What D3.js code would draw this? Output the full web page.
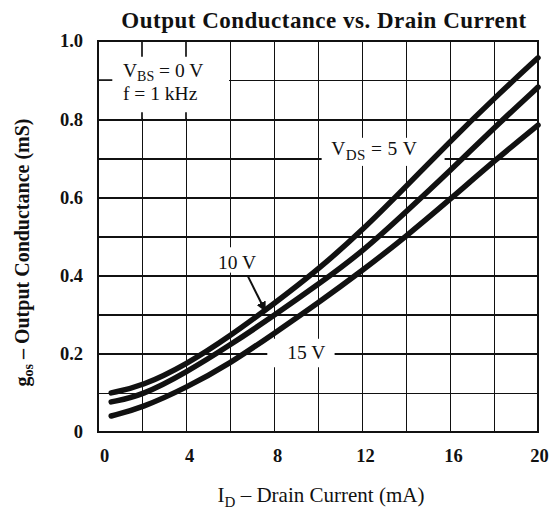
<!DOCTYPE html>
<html lang="en">

<head>
  <meta charset="utf-8">
  <title>Output Conductance vs. Drain Current</title>
  <script type="text/javascript" src="https://cdn.jsdelivr.net/npm/d3@7"></script>

  <style>
    body {
      margin: 0;
      background: #fff;
    }

    svg text {
      font-family: "Liberation Serif", "Times New Roman", serif;
      fill: #111;
    }

    .grid line {
      stroke: #111;
      stroke-width: 1.7;
      shape-rendering: crispEdges;
    }

    .grid path {
      display: none;
    }

    .axis path,
    .axis line {
      display: none;
    }

    .axis text {
      font-size: 18.5px;
      font-weight: bold;
    }

    .curve {
      fill: none;
      stroke: #111;
      stroke-width: 5.5;
      stroke-linecap: round;
    }

    .note {
      font-size: 19.5px;
    }
  </style>
</head>

<body>
  <script type="text/javascript">

    //Width and height
    var w = 549;
    var h = 509;
    var margin = { top: 41, right: 11, bottom: 77, left: 98 };

    //Data: drain current (mA) and g_os (mS)
    var current = [0.6, 2, 4, 6, 8, 10, 12, 14, 16, 18, 20];
    var gos5V = [0.10, 0.117, 0.172, 0.245, 0.328, 0.415, 0.515, 0.628, 0.743, 0.853, 0.957];
    var gos10V = [0.077, 0.093, 0.152, 0.222, 0.298, 0.377, 0.46, 0.563, 0.668, 0.778, 0.882];
    var gos15V = [0.041, 0.062, 0.113, 0.175, 0.252, 0.33, 0.412, 0.5, 0.595, 0.693, 0.785];

    var xTicks = [0, 4, 8, 12, 16, 20];
    var yTicks = [0, 0.2, 0.4, 0.6, 0.8, 1.0];
    var xGrid = [2, 4, 6, 8, 10, 12, 14, 16, 18];
    var yGrid = [0.1, 0.2, 0.3, 0.4, 0.5, 0.6, 0.7, 0.8, 0.9];

    var series = [gos5V, gos10V, gos15V];

    var xScale = d3.scaleLinear()
      .domain([0, 20])
      .range([margin.left, w - margin.right]);

    var yScale = d3.scaleLinear()
      .domain([0, 1])
      .range([h - margin.bottom, margin.top]);

    var x0 = xScale(0), x1 = xScale(20), y0 = yScale(0), y1 = yScale(1);

    //Create SVG element
    var svg = d3.select("body")
      .append("svg")
      .attr("width", w)
      .attr("height", h);

    //Grid lines
    svg.append("g")
      .attr("class", "grid")
      .attr("transform", "translate(0," + y0 + ")")
      .call(d3.axisBottom(xScale).tickValues(xGrid).tickSize(-(y0 - y1)).tickFormat(""));

    svg.append("g")
      .attr("class", "grid")
      .attr("transform", "translate(" + x0 + ",0)")
      .call(d3.axisLeft(yScale).tickValues(yGrid).tickSize(-(x1 - x0)).tickFormat(""));

    //White patches behind the labels, in data units
    var patches = [
      [0, 6, 0.8, 1.0],          // conditions box
      [10.12, 15.8, 0.678, 0.755], // V_DS = 5 V
      [5.2, 7.45, 0.405, 0.475],  // 10 V
      [7.65, 10.8, 0.163, 0.241]  // 15 V
    ];

    svg.selectAll("rect.patch")
      .data(patches)
      .enter()
      .append("rect")
      .attr("class", "patch")
      .attr("x", function (d) { return xScale(d[0]) + 1; })
      .attr("y", function (d) { return yScale(d[3]) + 1; })
      .attr("width", function (d) { return xScale(d[1]) - xScale(d[0]) - 2; })
      .attr("height", function (d) { return yScale(d[2]) - yScale(d[3]) - 2; })
      .attr("fill", "#fff");

    //Small stubs left inside the conditions box
    var stubs = [[2, 1.0, 2, 0.96], [4, 1.0, 4, 0.96], [2, 0.8, 2, 0.818], [4, 0.8, 4, 0.818], [0, 0.9, 0.65, 0.9]];
    svg.selectAll("line.stub")
      .data(stubs)
      .enter()
      .append("line")
      .attr("class", "stub")
      .attr("x1", function (d) { return xScale(d[0]); })
      .attr("y1", function (d) { return yScale(d[1]); })
      .attr("x2", function (d) { return xScale(d[2]); })
      .attr("y2", function (d) { return yScale(d[3]); })
      .attr("stroke", "#111")
      .attr("stroke-width", 1.7);

    //Frame
    svg.append("rect")
      .attr("x", x0)
      .attr("y", y1)
      .attr("width", x1 - x0)
      .attr("height", y0 - y1)
      .attr("fill", "none")
      .attr("stroke", "#111")
      .attr("stroke-width", 2);

    //Curves
    var line = d3.line()
      .x(function (d, i) { return xScale(current[i]); })
      .y(function (d) { return yScale(d); })
      .curve(d3.curveBasis);

    svg.selectAll("path.curve")
      .data(series)
      .enter()
      .append("path")
      .attr("class", "curve")
      .attr("d", line);

    //Axes
    svg.append("g")
      .attr("class", "axis")
      .attr("transform", "translate(0," + y0 + ")")
      .call(d3.axisBottom(xScale).tickValues(xTicks).tickSize(0).tickPadding(12))
      .selectAll("text")
      .attr("dx", function (d) { return d === 0 ? 6 : (d === 20 ? 1 : 3); })
      .attr("dy", "0.95em");

    svg.append("g")
      .attr("class", "axis")
      .attr("transform", "translate(" + x0 + ",0)")
      .call(d3.axisLeft(yScale).tickValues(yTicks).tickSize(0).tickPadding(15)
        .tickFormat(function (d) { return d === 0 ? "0" : d.toFixed(1); }));

    //Title
    svg.append("text")
      .attr("x", (x0 + x1) / 2 + 6)
      .attr("y", 28)
      .attr("text-anchor", "middle")
      .attr("font-size", "23px")
      .attr("font-weight", "bold")
      .attr("letter-spacing", "0.5px")
      .text("Output Conductance vs. Drain Current");

    //X axis label
    var xl = svg.append("text")
      .attr("x", (x0 + x1) / 2 + 3)
      .attr("y", 502)
      .attr("text-anchor", "middle")
      .attr("font-size", "21px");
    xl.append("tspan").text("I");
    xl.append("tspan").attr("font-size", "15px").attr("dy", 5).text("D");
    xl.append("tspan").attr("dy", -5).text(" \u2013 Drain Current (mA)");

    //Y axis label
    var yl = svg.append("text")
      .attr("transform", "translate(29," + ((y0 + y1) / 2 + 16) + ") rotate(-90)")
      .attr("text-anchor", "middle")
      .attr("font-size", "20px")
      .attr("font-weight", "bold");
    yl.append("tspan").text("g");
    yl.append("tspan").attr("font-size", "14px").attr("dy", 4).text("os");
    yl.append("tspan").attr("dy", -4).text(" \u2013 Output Conductance (mS)");

    //Conditions
    var c1 = svg.append("text")
      .attr("class", "note")
      .attr("x", 123)
      .attr("y", 77);
    c1.append("tspan").text("V");
    c1.append("tspan").attr("font-size", "14px").attr("dy", 4).text("BS");
    c1.append("tspan").attr("dy", -4).text(" = 0 V");

    svg.append("text")
      .attr("class", "note")
      .attr("x", 123)
      .attr("y", 100)
      .text("f = 1 kHz");

    //Curve labels
    var l5 = svg.append("text")
      .attr("class", "note")
      .attr("x", xScale(10.6))
      .attr("y", yScale(0.708))
      .attr("letter-spacing", "0.4px");
    l5.append("tspan").text("V");
    l5.append("tspan").attr("font-size", "15px").attr("dy", 5).text("DS");
    l5.append("tspan").attr("dy", -5).text(" = 5 V");

    svg.append("text")
      .attr("class", "note")
      .attr("x", xScale(5.45))
      .attr("y", yScale(0.418))
      .text("10 V");

    svg.append("text")
      .attr("class", "note")
      .attr("x", xScale(8.6))
      .attr("y", yScale(0.187))
      .text("15 V");

    //Arrow for 10 V
    svg.append("defs")
      .append("marker")
      .attr("id", "head")
      .attr("viewBox", "0 0 10 10")
      .attr("refX", 9)
      .attr("refY", 5)
      .attr("markerWidth", 5)
      .attr("markerHeight", 5)
      .attr("orient", "auto")
      .append("path")
      .attr("d", "M0,0L10,5L0,10z")
      .attr("fill", "#111");

    svg.append("line")
      .attr("x1", xScale(6.8))
      .attr("y1", yScale(0.4))
      .attr("x2", xScale(7.6))
      .attr("y2", yScale(0.31))
      .attr("stroke", "#111")
      .attr("stroke-width", 2)
      .attr("marker-end", "url(#head)");

  </script>
</body>

</html>
